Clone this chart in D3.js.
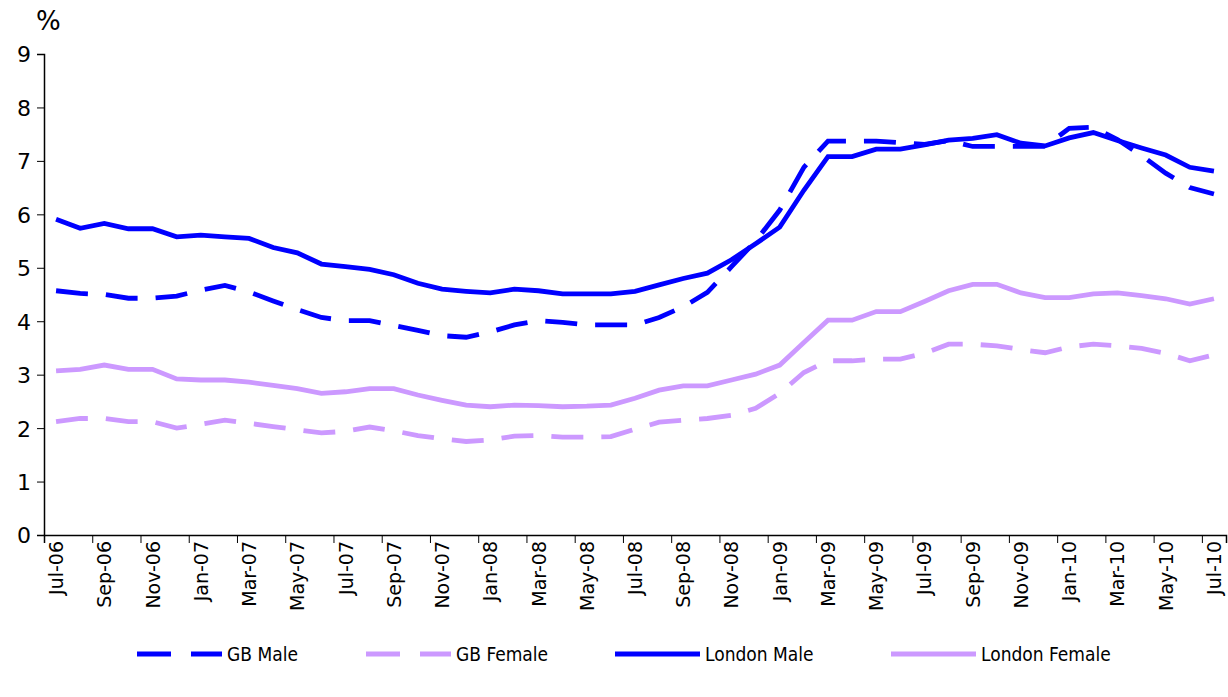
<!DOCTYPE html>
<html>
<head>
<meta charset="utf-8">
<script src="https://cdn.jsdelivr.net/npm/d3@7"></script>
<style>
  body { margin: 0; background: #fff; }
  svg { display: block; }
  .tick text { fill: #000; }
</style>
</head>
<body>
<div id="chart"></div>
<script>
// months Jul-06 .. Jul-10
const months = ["Jul-06","Aug-06","Sep-06","Oct-06","Nov-06","Dec-06","Jan-07","Feb-07","Mar-07","Apr-07","May-07","Jun-07",
  "Jul-07","Aug-07","Sep-07","Oct-07","Nov-07","Dec-07","Jan-08","Feb-08","Mar-08","Apr-08","May-08","Jun-08",
  "Jul-08","Aug-08","Sep-08","Oct-08","Nov-08","Dec-08","Jan-09","Feb-09","Mar-09","Apr-09","May-09","Jun-09",
  "Jul-09","Aug-09","Sep-09","Oct-09","Nov-09","Dec-09","Jan-10","Feb-10","Mar-10","Apr-10","May-10","Jun-10","Jul-10"];

const gbMale = [4.57,4.52,4.50,4.43,4.43,4.47,4.58,4.67,4.55,4.38,4.22,4.07,
  4.01,4.01,3.92,3.83,3.73,3.70,3.80,3.93,4.01,3.98,3.93,3.93,
  3.93,4.07,4.27,4.54,5.02,5.50,6.08,6.88,7.37,7.37,7.37,7.34,
  7.31,7.38,7.27,7.27,7.27,7.27,7.61,7.63,7.40,7.10,6.77,6.50,6.38];

const gbFemale = [2.12,2.18,2.18,2.12,2.12,2.00,2.07,2.15,2.09,2.03,1.97,1.91,
  1.94,2.02,1.95,1.86,1.80,1.75,1.78,1.85,1.86,1.83,1.83,1.84,
  1.98,2.11,2.15,2.18,2.24,2.37,2.65,3.04,3.26,3.26,3.29,3.29,
  3.40,3.57,3.57,3.54,3.47,3.41,3.52,3.57,3.54,3.49,3.40,3.26,3.37];

const londonMale = [5.91,5.74,5.83,5.73,5.73,5.58,5.61,5.58,5.55,5.38,5.28,5.07,
  5.02,4.97,4.87,4.71,4.60,4.56,4.53,4.60,4.57,4.51,4.51,4.51,
  4.56,4.68,4.80,4.90,5.15,5.45,5.76,6.45,7.08,7.08,7.22,7.22,
  7.30,7.39,7.42,7.49,7.33,7.28,7.43,7.53,7.38,7.24,7.11,6.88,6.81];

const londonFemale = [3.07,3.10,3.18,3.10,3.10,2.92,2.90,2.90,2.86,2.80,2.74,2.65,
  2.68,2.74,2.74,2.62,2.52,2.43,2.40,2.43,2.42,2.40,2.41,2.43,
  2.56,2.71,2.79,2.79,2.90,3.01,3.18,3.60,4.02,4.02,4.18,4.18,
  4.37,4.57,4.69,4.69,4.53,4.44,4.44,4.51,4.53,4.48,4.42,4.32,4.42];

const yTicks = [0,1,2,3,4,5,6,7,8,9];

const series = [
  { name: "GB Male", values: gbMale, color: "#0000ff", dash: "32,18" },
  { name: "GB Female", values: gbFemale, color: "#cc99ff", dash: "32,18" },
  { name: "London Male", values: londonMale, color: "#0000ff", dash: null },
  { name: "London Female", values: londonFemale, color: "#cc99ff", dash: null }
];

const width = 1228, height = 697;
const plotLeft = 44, plotRight = 1226, plotTop = 54, plotBottom = 535;

const svg = d3.select("#chart").append("svg")
  .attr("width", width)
  .attr("height", height);

const x = d3.scaleBand().domain(months).range([plotLeft, plotRight]).padding(0);
const xEdge = d3.scaleLinear().domain([0, months.length]).range([plotLeft, plotRight]);
const y = d3.scaleLinear().domain([0, 9]).range([plotBottom, plotTop]);

const font = "'DejaVu Sans', sans-serif";

// y axis
svg.append("g")
  .attr("transform", `translate(${plotLeft},0)`)
  .call(d3.axisLeft(y).tickValues(yTicks).tickSize(7).tickPadding(6).tickFormat(d3.format("d")))
  .call(g => g.select(".domain").attr("stroke", "#000").attr("stroke-width", 1.5))
  .call(g => g.selectAll(".tick line").attr("stroke", "#000"))
  .call(g => g.selectAll("text").style("font-family", font).style("font-size", "22px").attr("dy", "0.36em"));

// x axis: tick marks at category edges every 2 months
svg.append("g")
  .attr("transform", `translate(0,${plotBottom})`)
  .call(d3.axisBottom(xEdge).tickValues(d3.range(0, months.length + 1, 2)).tickSize(8).tickFormat(""))
  .call(g => g.select(".domain").attr("stroke", "#000").attr("stroke-width", 1.5))
  .call(g => g.selectAll(".tick line").attr("stroke", "#000"));

// x labels at category centres
const labels = months.filter((m, i) => i % 2 === 0);
svg.append("g")
  .selectAll("text")
  .data(labels)
  .join("text")
  .attr("transform", d => `translate(${x(d) + x.bandwidth() / 2 + 7},${plotBottom + 6}) rotate(-90)`)
  .attr("text-anchor", "end")
  .style("font-family", font)
  .style("font-size", "19px")
  .text(d => d);

// % label
svg.append("text")
  .attr("x", 36).attr("y", 30)
  .style("font-family", font)
  .style("font-size", "26px")
  .text("%");

// lines
const line = d3.line()
  .x((d, i) => x(months[i]) + x.bandwidth() / 2)
  .y(d => y(d));

svg.append("g")
  .selectAll("path")
  .data(series)
  .join("path")
  .attr("d", d => line(d.values))
  .attr("fill", "none")
  .attr("stroke", d => d.color)
  .attr("stroke-width", 4.8)
  .attr("stroke-linejoin", "miter")
  .attr("stroke-dasharray", d => d.dash);

// legend
const legendX = [137, 366, 615, 891];
const leg = svg.append("g")
  .selectAll("g")
  .data(series)
  .join("g")
  .attr("transform", (d, i) => `translate(${legendX[i]},654)`);

leg.append("line")
  .attr("x1", 0).attr("x2", 85)
  .attr("y1", 0).attr("y2", 0)
  .attr("stroke", d => d.color)
  .attr("stroke-width", 4.8)
  .attr("stroke-dasharray", d => d.dash ? "34,20" : null);

leg.append("text")
  .attr("x", 90).attr("y", 0)
  .attr("dy", "0.35em")
  .style("font-family", "'DejaVu Sans Condensed', 'DejaVu Sans', sans-serif")
  .style("font-stretch", "condensed")
  .style("font-size", "19px")
  .text(d => d.name);
</script>
</body>
</html>
